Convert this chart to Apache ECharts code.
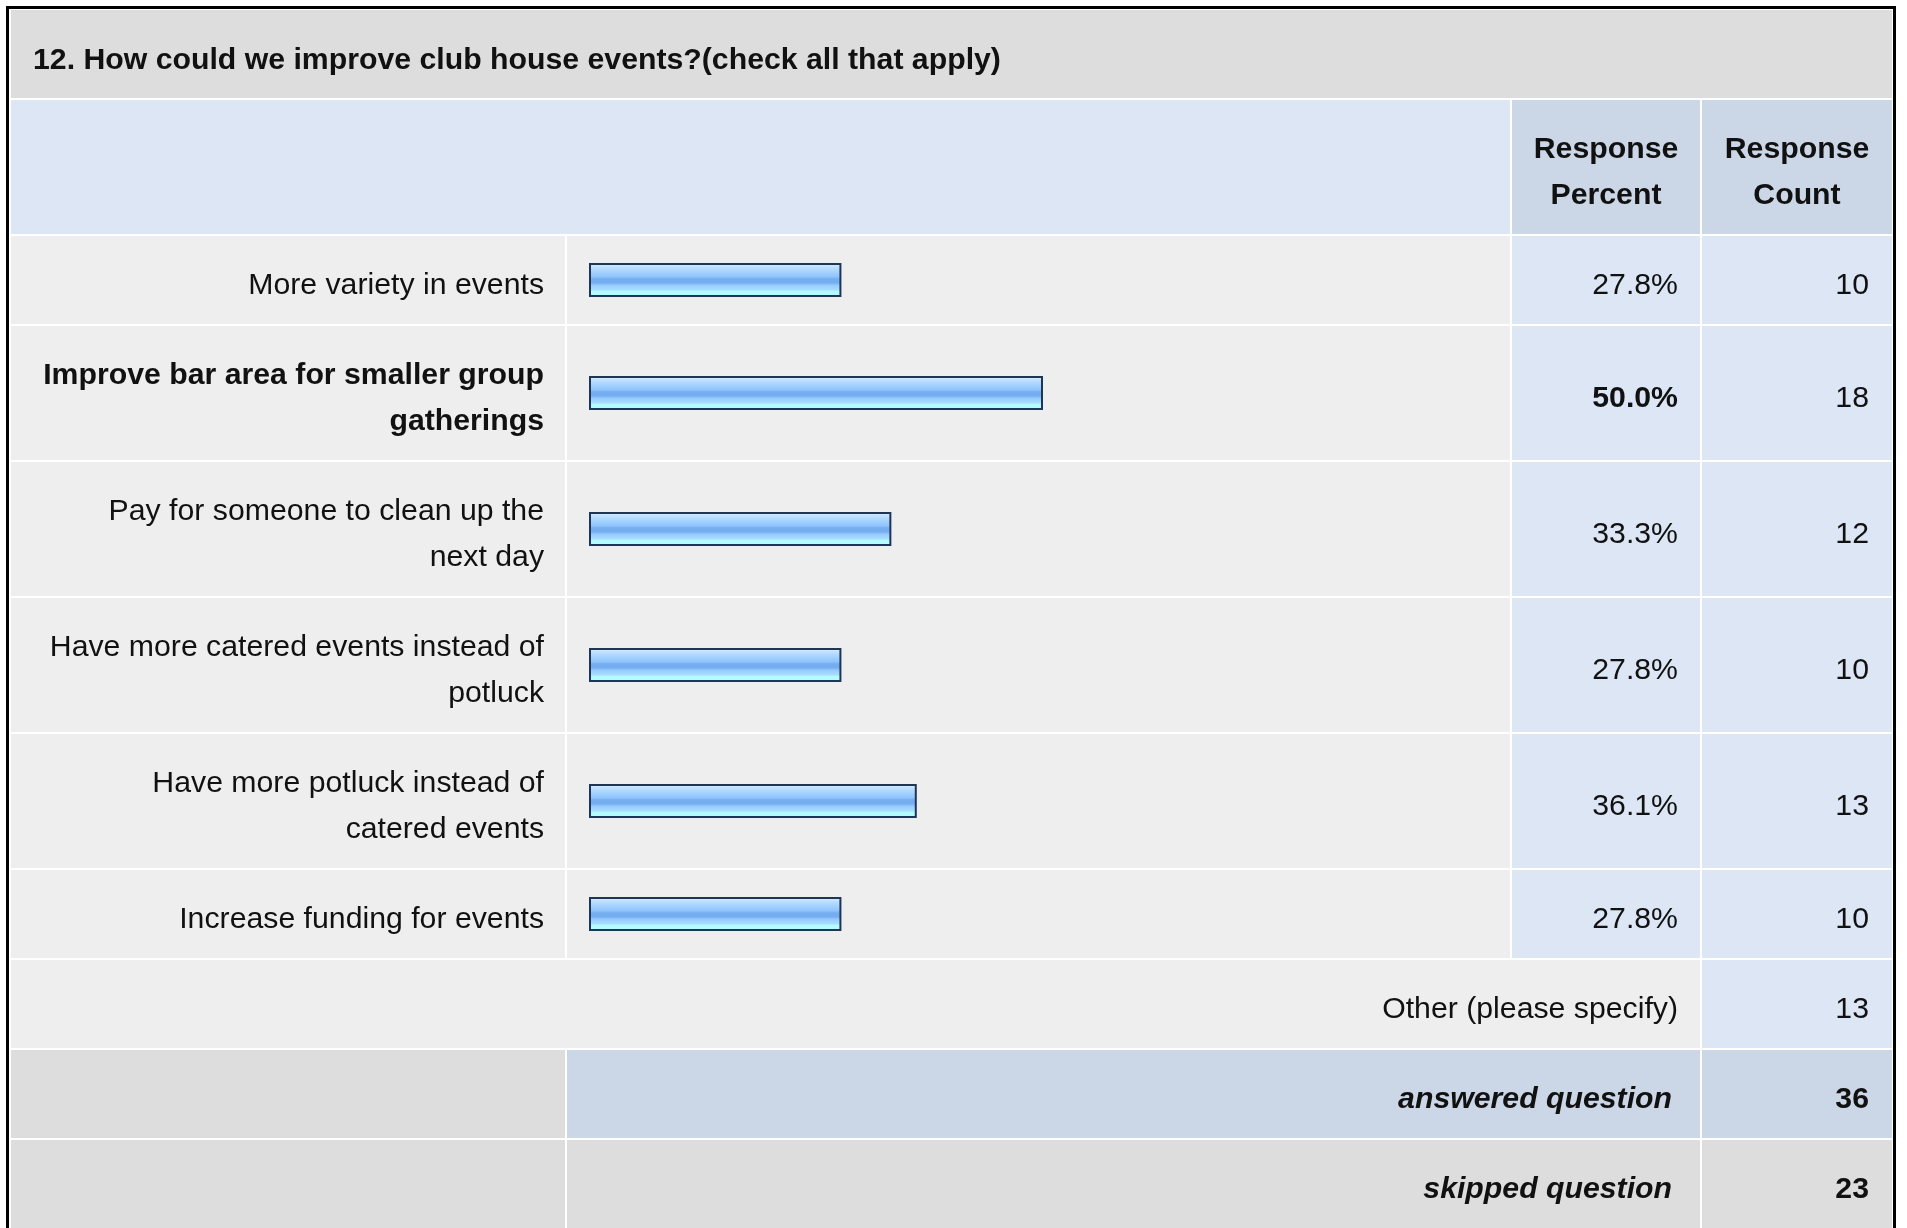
<!DOCTYPE html>
<html><head><meta charset="utf-8">
<script src="https://cdn.jsdelivr.net/npm/echarts@6/dist/echarts.min.js"></script>
<style>html,body{margin:0;padding:0;background:#fff}#c{width:1907px;height:1228px}</style>
</head><body><div id="c"></div>
<script>
// ---- data ----
const title = '12. How could we improve club house events?(check all that apply)';
const headerPercent = 'Response\nPercent';
const headerCount = 'Response\nCount';
const categories = [
  'More variety in events',
  'Improve bar area for smaller group\ngatherings',
  'Pay for someone to clean up the\nnext day',
  'Have more catered events instead of\npotluck',
  'Have more potluck instead of\ncatered events',
  'Increase funding for events'
];
const percents = [27.8, 50.0, 33.3, 27.8, 36.1, 27.8];
const counts = [10, 18, 12, 10, 13, 10];
const otherLabel = 'Other (please specify)';
const otherCount = 13;
const answeredLabel = 'answered question';
const answeredCount = 36;
const skippedLabel = 'skipped question';
const skippedCount = 23;

// ---- layout ----
const FAM = '"Liberation Sans", Arial, Helvetica, sans-serif';
const SX = 1.008, FS = 30, LH = 46, DY = 6;
const C0 = 11, C1 = 567, C2 = 1512, C3 = 1702, CE = 1892;
const GAP = 2, H1 = 88, H2 = 134;
const BAR_LEFT = 589, BAR_W = 908;
const COL = {title:'#dddddd', head:'#dce6f4', headCell:'#cbd7e6', body:'#eeeeee', num:'#dce6f4', foot:'#dddddd', footBlue:'#cbd7e6'};

const graphic = [];
function rect(x1, x2, y, h, fill) {
  graphic.push({type:'rect', z:0, silent:true, shape:{x:x1, y:y, width:x2 - x1 - GAP, height:h}, style:{fill:fill}});
}
function txt(x, y, text, align, weight) {
  graphic.push({type:'text', z:10, silent:true, x:x, y:y + DY, scaleX:SX, originX:0, originY:0,
    style:{text:String(text), font:(weight || 'normal') + ' ' + FS + 'px ' + FAM, fill:'#111',
      textAlign:align, align:align, textVerticalAlign:'middle', verticalAlign:'middle', lineHeight:LH}});
}

let y = 10;
// title
rect(C0, CE + GAP, y, H1, COL.title);
txt(33, y + H1 / 2 + 1, title, 'left', 'bold');
y += H1 + GAP;
// header
rect(C0, C2, y, H2, COL.head);
rect(C2, C3, y, H2, COL.headCell);
rect(C3, CE + GAP, y, H2, COL.headCell);
txt((C2 + C3 - GAP) / 2, y + H2 / 2, headerPercent, 'center', 'bold');
txt((C3 + CE) / 2, y + H2 / 2, headerCount, 'center', 'bold');
y += H2 + GAP;

const maxP = Math.max.apply(null, percents);
const grids = [], xAxes = [], yAxes = [], series = [];
categories.forEach(function (cat, i) {
  const h = cat.indexOf('\n') >= 0 ? H2 : H1;
  const w = percents[i] === maxP ? 'bold' : 'normal';
  rect(C0, C1, y, h, COL.body);
  rect(C1, C2, y, h, COL.body);
  rect(C2, C3, y, h, COL.num);
  rect(C3, CE + GAP, y, h, COL.num);
  txt(544, y + h / 2, cat, 'right', w);
  txt(1678, y + h / 2, percents[i].toFixed(1) + '%', 'right', w);
  txt(1869, y + h / 2, counts[i], 'right', 'normal');
  grids.push({left:BAR_LEFT, width:BAR_W, top:y, height:h});
  xAxes.push({gridIndex:i, type:'value', min:0, max:100, show:false});
  yAxes.push({gridIndex:i, type:'category', data:[cat], show:false});
  series.push({type:'bar', xAxisIndex:i, yAxisIndex:i, data:[percents[i]], barWidth:34, z:3, silent:true,
    itemStyle:{borderColor:'#1e3556', borderWidth:2,
      color:{type:'linear', x:0, y:0, x2:0, y2:1, colorStops:[
        {offset:0, color:'#dff0ff'}, {offset:0.12, color:'#bfe0ff'}, {offset:0.25, color:'#a6d3ff'},
        {offset:0.4, color:'#90c4fb'}, {offset:0.47, color:'#74aef0'}, {offset:0.58, color:'#74aef0'},
        {offset:0.66, color:'#98ccff'}, {offset:0.78, color:'#a8dcff'}, {offset:0.84, color:'#b2fcff'},
        {offset:1, color:'#b2ffff'}]}}});
  y += h + GAP;
});

// other
rect(C0, C3, y, H1, COL.body);
rect(C3, CE + GAP, y, H1, COL.num);
txt(1678, y + H1 / 2, otherLabel, 'right', 'normal');
txt(1869, y + H1 / 2, otherCount, 'right', 'normal');
y += H1 + GAP;
// answered
rect(C0, C1, y, H1, COL.foot);
rect(C1, C3, y, H1, COL.footBlue);
rect(C3, CE + GAP, y, H1, COL.footBlue);
txt(1672, y + H1 / 2, answeredLabel, 'right', 'italic bold');
txt(1869, y + H1 / 2, answeredCount, 'right', 'bold');
y += H1 + GAP;
// skipped
rect(C0, C1, y, H1, COL.foot);
rect(C1, C3, y, H1, COL.foot);
rect(C3, CE + GAP, y, H1, COL.foot);
txt(1672, y + H1 / 2, skippedLabel, 'right', 'italic bold');
txt(1869, y + H1 / 2, skippedCount, 'right', 'bold');

// outer frame
graphic.push({type:'rect', z:20, silent:true, shape:{x:7.5, y:7.5, width:1887, height:1260}, style:{fill:null, stroke:'#000', lineWidth:3}});

const chart = echarts.init(document.getElementById('c'), null, {renderer:'canvas'});
chart.setOption({
  animation:false,
  backgroundColor:'#ffffff',
  grid:grids, xAxis:xAxes, yAxis:yAxes, series:series,
  graphic:{elements:graphic}
});
</script>
</body></html>
